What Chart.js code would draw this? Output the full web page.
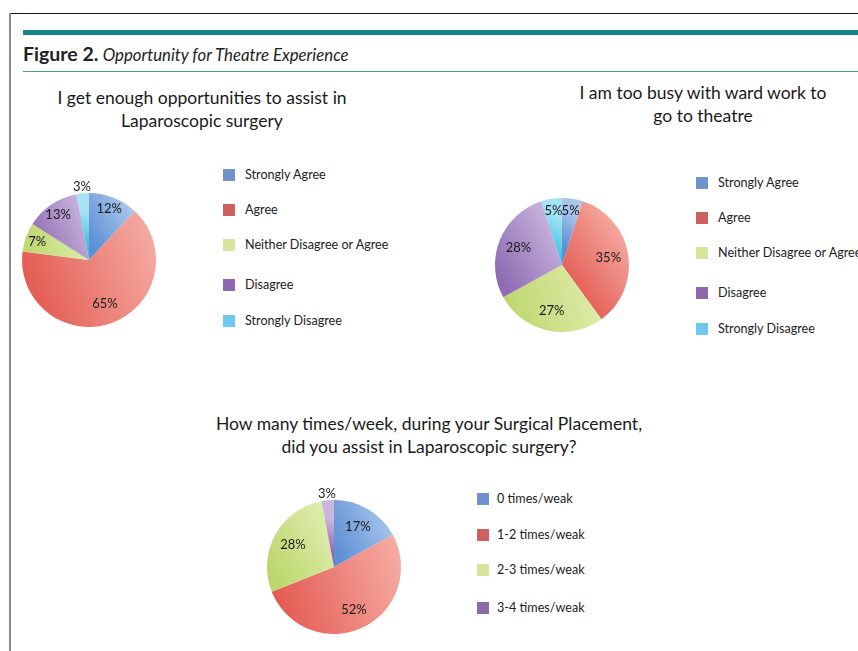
<!DOCTYPE html>
<html>
<head>
<meta charset="utf-8">
<script src="https://cdn.jsdelivr.net/npm/chart.js"></script>
<style>
  body { margin: 0; width: 858px; height: 651px; overflow: hidden; background: #fff; font-family: Lato, "Open Sans", sans-serif; color: #222; position: relative; }
  .abs { position: absolute; }
  .ctitle { position: absolute; text-align: center; font-size: 17.5px; line-height: 23px; white-space: nowrap; transform: translateX(-50%); color: #1a1a1a; }
  .lg-box { position: absolute; width: 12px; height: 12px; }
  .lg-txt { position: absolute; font-size: 12.6px; line-height: 14px; white-space: nowrap; color: #222; }
  canvas { position: absolute; }
</style>
</head>
<body>
<div class="abs" style="left:10px;top:13px;width:848px;height:1px;background:#111;"></div>
<div class="abs" style="left:9px;top:13px;width:2px;height:640px;background:#8a8a8a;"></div>
<div class="abs" style="left:23px;top:30px;width:835px;height:5px;background:#13868a;"></div>
<div class="abs" style="left:23px;top:71px;width:835px;height:1px;background:#4a9a9c;"></div>
<div class="abs" style="left:23px;top:42px;font-size:16.8px;white-space:nowrap;"><b style="font-size:19.5px;">Figure 2.</b> <i>Opportunity for Theatre Experience</i></div>

<div class="ctitle" style="left:202px;top:86px;">I get enough opportunities to assist in<br>Laparoscopic surgery</div>
<div class="ctitle" style="left:703px;top:81px;">I am too busy with ward work to<br>go to theatre</div>
<div class="ctitle" style="left:429px;top:412px;">How many times/week, during your Surgical Placement,<br>did you assist in Laparoscopic surgery?</div>

<canvas id="pie1" width="200" height="200" style="left:-11px;top:160px;"></canvas>
<canvas id="pie2" width="200" height="200" style="left:462px;top:165px;"></canvas>
<canvas id="pie3" width="200" height="200" style="left:234px;top:467px;"></canvas>
<div id="legends"></div>

<script>
// ---- data ----
const agreeLabels = ['Strongly Agree', 'Agree', 'Neither Disagree or Agree', 'Disagree', 'Strongly Disagree'];
const enoughOpportunities = [12, 65, 7, 13, 3];
const tooBusy = [5, 35, 27, 28, 5];
const timesLabels = ['0 times/weak', '1-2 times/weak', '2-3 times/weak', '3-4 times/weak'];
const timesPerWeek = [17, 52, 28, 3];

// dark / light ends of the slice shading, plus flat legend colour
const palette = [
  { dark: '#5d8fd4', light: '#abc7ec', flat: '#7092ce' },
  { dark: '#e2584e', light: '#f5aaa2', flat: '#d06060' },
  { dark: '#bcd66c', light: '#e0edae', flat: '#d6e49c' },
  { dark: '#8f6cb2', light: '#cab7df', flat: '#8e69af' },
  { dark: '#3cc3e1', light: '#a6e3f5', flat: '#6ec8f0' }
];

function sliceFill(ctx) {
  const chart = ctx.chart, a = chart.chartArea, i = ctx.dataIndex;
  const c = palette[i];
  if (!a) return c.dark;
  const vals = ctx.dataset.data;
  const total = vals.reduce((s, v) => s + v, 0);
  let before = 0;
  for (let k = 0; k < i; k++) before += vals[k];
  const cx = (a.left + a.right) / 2, cy = (a.top + a.bottom) / 2;
  const r = Math.min(a.right - a.left, a.bottom - a.top) / 2;
  const s = -Math.PI / 2 + 2 * Math.PI * before / total;
  const e = s + 2 * Math.PI * vals[i] / total;
  const xs = [cx, cx + r * Math.cos(s), cx + r * Math.cos(e)];
  const ys = [cy, cy + r * Math.sin(s), cy + r * Math.sin(e)];
  for (let q = -Math.PI / 2; q <= 3 * Math.PI / 2 + 1e-9; q += Math.PI / 2) {
    if (q > s && q < e) { xs.push(cx + r * Math.cos(q)); ys.push(cy + r * Math.sin(q)); }
  }
  const x0 = Math.min(...xs), x1 = Math.max(...xs);
  const my = (Math.min(...ys) + Math.max(...ys)) / 2, h = Math.max(...ys) - Math.min(...ys);
  const g = chart.ctx.createLinearGradient(x0, my + h * 0.2, x1, my - h * 0.2);
  g.addColorStop(0, c.dark);
  g.addColorStop(1, c.light);
  return g;
}

// percentage labels on / beside each slice
const pctLabels = {
  id: 'pctLabels',
  afterDatasetsDraw(chart) {
    const ctx = chart.ctx;
    const meta = chart.getDatasetMeta(0);
    const vals = chart.data.datasets[0].data;
    ctx.save();
    ctx.font = '13px Lato, sans-serif';
    ctx.fillStyle = '#1a1a1a';
    ctx.textAlign = 'center';
    ctx.textBaseline = 'middle';
    meta.data.forEach((arc, i) => {
      const mid = (arc.startAngle + arc.endAngle) / 2;
      const v = vals[i];
      const f = v < 4 ? 1.1 : (v < 15 ? 0.82 : 0.7);
      const x = arc.x + Math.cos(mid) * arc.outerRadius * f;
      const y = arc.y + Math.sin(mid) * arc.outerRadius * f;
      ctx.fillText(v + '%', x, y);
    });
    ctx.restore();
  }
};

function makePie(id, labels, values) {
  return new Chart(document.getElementById(id), {
    type: 'pie',
    data: {
      labels: labels,
      datasets: [{
        data: values,
        backgroundColor: sliceFill,
        borderWidth: 0,
        hoverOffset: 0
      }]
    },
    options: {
      responsive: false,
      animation: false,
      layout: { padding: 33 },
      plugins: { legend: { display: false }, tooltip: { enabled: false } }
    },
    plugins: [pctLabels]
  });
}

makePie('pie1', agreeLabels, enoughOpportunities);
makePie('pie2', agreeLabels, tooBusy);
makePie('pie3', timesLabels, timesPerWeek);

// legends
function makeLegend(labels, boxX, textX, rows) {
  const host = document.getElementById('legends');
  labels.forEach((l, i) => {
    const b = document.createElement('div');
    b.className = 'lg-box';
    b.style.left = boxX + 'px';
    b.style.top = (rows[i] - 6) + 'px';
    b.style.background = palette[i].flat;
    host.appendChild(b);
    const t = document.createElement('div');
    t.className = 'lg-txt';
    t.style.left = textX + 'px';
    t.style.top = (rows[i] - 7) + 'px';
    t.textContent = l;
    host.appendChild(t);
  });
}
makeLegend(agreeLabels, 223, 245, [175, 210, 245, 285, 321]);
makeLegend(agreeLabels, 696, 718, [183, 218, 253, 293, 329]);
makeLegend(timesLabels, 477, 497, [499, 535, 570, 608]);
</script>
</body>
</html>
